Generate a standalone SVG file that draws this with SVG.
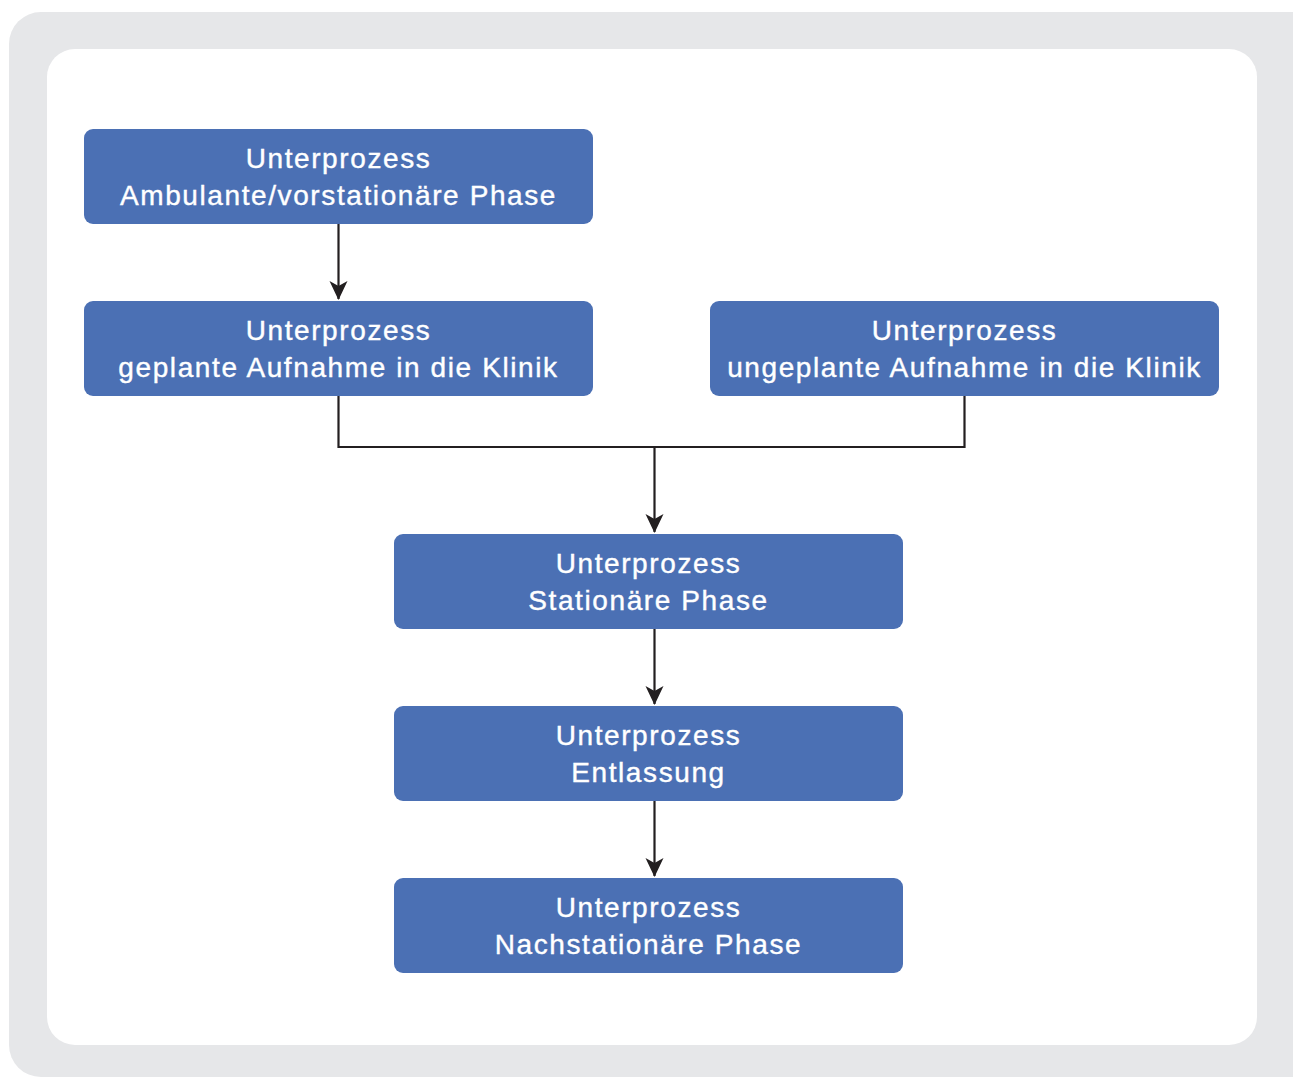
<svg xmlns="http://www.w3.org/2000/svg" width="1293" height="1077" viewBox="0 0 1293 1077">
<style>
.node rect{fill:#4b70b4}
.node text{font-family:"Liberation Sans","DejaVu Sans",sans-serif;font-size:28px;fill:#fff;stroke:#fff;stroke-width:0.4;text-anchor:middle;letter-spacing:1.6px}
.conn path{fill:none;stroke:#231f20;stroke-width:2.2}
</style>
<defs>
<marker id="ah" viewBox="0 0 20 20" refX="18" refY="10" markerWidth="20" markerHeight="20" markerUnits="userSpaceOnUse" orient="auto">
<path d="M0,1 L19,10 L0,19 L5,10 Z" fill="#231f20"/>
</marker>
</defs>
<rect x="9" y="12" width="1320" height="1065" rx="32" fill="#e6e7e9"/>
<rect x="47" y="49" width="1210" height="996" rx="28" fill="#fff"/>
<g class="conn">
<path d="M338.5,224 V299" marker-end="url(#ah)"/>
<path d="M338.5,396 V447 H964.5 V396"/>
<path d="M654.5,447 V532" marker-end="url(#ah)"/>
<path d="M654.5,629 V704" marker-end="url(#ah)"/>
<path d="M654.5,801 V876" marker-end="url(#ah)"/>
</g>
<g id="n1" class="node"><rect x="84" y="129" width="509" height="95" rx="9"/><text x="338.5" y="168">Unterprozess</text><text x="338.5" y="205">Ambulante/vorstationäre Phase</text></g>
<g id="n2" class="node"><rect x="84" y="301" width="509" height="95" rx="9"/><text x="338.5" y="340">Unterprozess</text><text x="338.5" y="377">geplante Aufnahme in die Klinik</text></g>
<g id="n3" class="node"><rect x="710" y="301" width="509" height="95" rx="9"/><text x="964.5" y="340">Unterprozess</text><text x="964.5" y="377">ungeplante Aufnahme in die Klinik</text></g>
<g id="n4" class="node"><rect x="394" y="534" width="509" height="95" rx="9"/><text x="648.5" y="573">Unterprozess</text><text x="648.5" y="610">Stationäre Phase</text></g>
<g id="n5" class="node"><rect x="394" y="706" width="509" height="95" rx="9"/><text x="648.5" y="745">Unterprozess</text><text x="648.5" y="782">Entlassung</text></g>
<g id="n6" class="node"><rect x="394" y="878" width="509" height="95" rx="9"/><text x="648.5" y="917">Unterprozess</text><text x="648.5" y="954">Nachstationäre Phase</text></g>
</svg>
